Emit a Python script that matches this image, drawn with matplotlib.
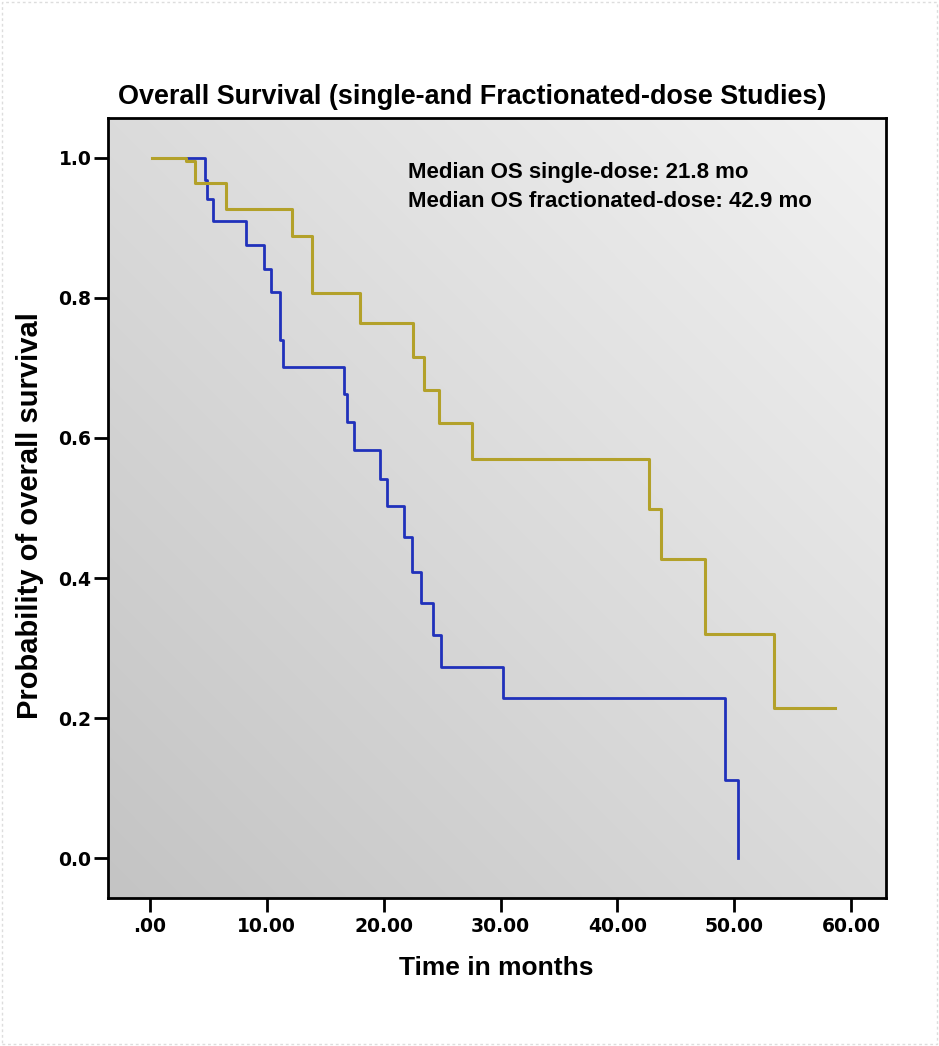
import numpy as np
import matplotlib
matplotlib.use("Agg")
import matplotlib.pyplot as plt
from matplotlib.patches import Rectangle

# ---- data ----
single_times = [0.2, 4.71, 4.9, 5.37, 8.19, 9.76, 10.33, 11.13, 11.4, 16.6, 16.9,
                17.47, 19.7, 20.26, 21.7, 22.4, 23.2, 24.26, 24.9, 30.17, 49.2, 50.3]
single_surv = [1.0, 0.969, 0.941, 0.910, 0.875, 0.841, 0.809, 0.740, 0.702, 0.663, 0.623,
               0.583, 0.542, 0.503, 0.458, 0.409, 0.365, 0.319, 0.273, 0.228, 0.111, 0.0]

frac_times = [0.15, 3.08, 3.85, 6.5, 12.13, 13.84, 18.0, 22.49, 23.46, 24.7, 27.6,
              42.7, 43.7, 47.5, 53.4, 58.65]
frac_surv = [1.0, 0.996, 0.964, 0.927, 0.888, 0.807, 0.764, 0.716, 0.669, 0.621, 0.570,
             0.498, 0.427, 0.320, 0.214, 0.214]

x_ticks = [0, 10, 20, 30, 40, 50, 60]
x_tick_labels = [".00", "10.00", "20.00", "30.00", "40.00", "50.00", "60.00"]
y_ticks = [0.0, 0.2, 0.4, 0.6, 0.8, 1.0]
y_tick_labels = ["0.0", "0.2", "0.4", "0.6", "0.8", "1.0"]

title = "Overall Survival (single-and Fractionated-dose Studies)"
annotation_lines = ["Median OS single-dose: 21.8 mo",
                    "Median OS fractionated-dose: 42.9 mo"]

# ---- figure ----
fig = plt.figure(figsize=(9.39, 10.46), dpi=100)
fig.patch.set_facecolor("white")
fig.patches.append(Rectangle((0.002, 0.002), 0.996, 0.996, transform=fig.transFigure,
                             fill=False, edgecolor="#dddddd", linestyle=(0, (2, 2)),
                             linewidth=1))

ax = fig.add_axes([0.115, 0.1415, 0.8286, 0.7457])
ax.set_xlim(-3.6, 63.0)
ax.set_ylim(-0.057, 1.057)

# gradient background (dark bottom-left -> light top-right)
gx, gy = np.meshgrid(np.linspace(0, 1, 200), np.linspace(0, 1, 200))
grad = (gx + gy) / 2.0
ax.imshow(grad, extent=[0, 1, 0, 1], origin="lower", transform=ax.transAxes,
          cmap=matplotlib.colors.LinearSegmentedColormap.from_list(
              "g", ["#c4c4c4", "#f2f2f2"]),
          aspect="auto", zorder=0, interpolation="bilinear")

gold = "#b3a12a"
blue = "#2031bb"
ax.step(single_times, single_surv, where="post", color=blue, linewidth=2.0, zorder=3)
ax.step(frac_times, frac_surv, where="post", color=gold, linewidth=2.2, zorder=4)

ax.set_xticks(x_ticks)
ax.set_xticklabels(x_tick_labels)
ax.set_yticks(y_ticks)
ax.set_yticklabels(y_tick_labels)
for lab in ax.get_xticklabels() + ax.get_yticklabels():
    lab.set_fontfamily("DejaVu Sans")
    lab.set_fontweight("bold")
    lab.set_fontsize(13.5)

ax.tick_params(axis="both", direction="out", length=10, width=2, color="black")
ax.tick_params(axis="x", pad=4)
ax.tick_params(axis="y", pad=2)
for sp in ax.spines.values():
    sp.set_linewidth(2)
    sp.set_color("black")

ax.set_xlabel("Time in months", fontfamily="Liberation Sans", fontweight="bold",
              fontsize=19, va="center", ha="center")
ax.xaxis.set_label_coords(0.4994, -0.0897)
ax.set_ylabel("Probability of overall survival", fontfamily="Liberation Sans",
              fontweight="bold", fontsize=21, va="center", ha="center")
ax.yaxis.set_label_coords(-0.1003, 0.4897)

fig.text(0.5027, 0.9073, title, fontfamily="Liberation Sans", fontweight="bold",
         fontsize=19.4, ha="center", va="center")

ax.text(0.3856, 0.9295, annotation_lines[0], transform=ax.transAxes,
        fontfamily="Liberation Sans", fontweight="bold", fontsize=16,
        ha="left", va="center")
ax.text(0.3856, 0.8923, annotation_lines[1], transform=ax.transAxes,
        fontfamily="Liberation Sans", fontweight="bold", fontsize=16,
        ha="left", va="center")

fig.savefig("out.png", dpi=100)
